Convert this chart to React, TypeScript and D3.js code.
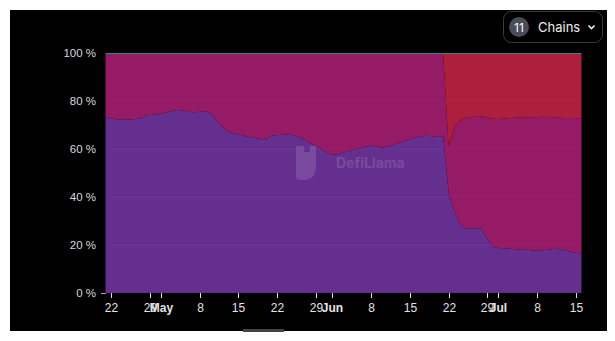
import React from "react";
import * as d3 from "d3";

const startDate = "2022-04-21";
const chainNames = ["Chain A", "Chain B", "Chain C", "Others"];
const chainColors = ["#652f90", "#951b67", "#ae1e3d", "#2c8c7c"];

const purple = [
  73.3, 72.8, 72.4, 72.2, 72.2, 72.4, 72.6, 73.5, 74.2, 74.4, 74.6, 75.2, 75.8, 76.3, 76.0, 75.4, 75.3, 75.5, 75.6, 75.0,
  72.0, 69.5, 67.5, 66.6, 66.0, 65.5, 65.0, 64.6, 64.2, 64.0, 65.5, 65.8, 65.9, 66.0, 65.8, 65.0, 63.8, 62.5, 61.5, 60.0,
  58.5, 57.6, 57.8, 58.5, 59.2, 59.8, 60.2, 60.8, 61.5, 61.0, 60.5, 61.0, 61.8, 62.5, 63.2, 64.0, 64.8, 65.2, 65.5, 65.3,
  65.0, 65.4, 41.5, 34.5, 29.0, 27.0, 26.8, 27.0, 26.8, 22.5, 19.2, 18.8, 18.6, 18.4, 18.2, 18.0, 18.0, 17.8, 17.6, 17.8,
  18.0, 18.3, 18.4, 17.8, 17.2, 16.8, 16.5,
];
const crimson = [
  26.3, 26.8, 27.2, 27.4, 27.4, 27.2, 27.0, 26.1, 25.4, 25.2, 25.0, 24.4, 23.8, 23.3, 23.6, 24.2, 24.3, 24.1, 24.0, 24.6,
  27.6, 30.1, 32.1, 33.0, 33.6, 34.1, 34.6, 35.0, 35.4, 35.6, 34.1, 33.8, 33.7, 33.6, 33.8, 34.6, 35.8, 37.1, 38.1, 39.6,
  41.1, 42.0, 41.8, 41.1, 40.4, 39.8, 39.4, 38.8, 38.1, 38.6, 39.1, 38.6, 37.8, 37.1, 36.4, 35.6, 34.8, 34.4, 34.1, 34.3,
  34.6, 34.2, 19.3, 34.8, 42.7, 45.9, 46.5, 46.8, 46.8, 50.7, 53.4, 53.7, 54.1, 54.5, 54.8, 55.1, 55.2, 55.4, 55.7, 55.6,
  55.3, 54.9, 54.6, 55.1, 55.7, 56.0, 56.3,
];
const red = [
  0, 0, 0, 0, 0, 0, 0, 0, 0, 0, 0, 0, 0, 0, 0, 0, 0, 0, 0, 0,
  0, 0, 0, 0, 0, 0, 0, 0, 0, 0, 0, 0, 0, 0, 0, 0, 0, 0, 0, 0,
  0, 0, 0, 0, 0, 0, 0, 0, 0, 0, 0, 0, 0, 0, 0, 0, 0, 0, 0, 0,
  0, 0, 38.8, 30.3, 27.9, 26.7, 26.3, 25.8, 26.0, 26.4, 27.0, 27.1, 26.9, 26.7, 26.6, 26.5, 26.4, 26.4, 26.3, 26.2,
  26.3, 26.4, 26.6, 26.7, 26.7, 26.8, 26.8,
];
const others = [
  0.4, 0.4, 0.4, 0.4, 0.4, 0.4, 0.4, 0.4, 0.4, 0.4, 0.4, 0.4, 0.4, 0.4, 0.4, 0.4, 0.4, 0.4, 0.4, 0.4,
  0.4, 0.4, 0.4, 0.4, 0.4, 0.4, 0.4, 0.4, 0.4, 0.4, 0.4, 0.4, 0.4, 0.4, 0.4, 0.4, 0.4, 0.4, 0.4, 0.4,
  0.4, 0.4, 0.4, 0.4, 0.4, 0.4, 0.4, 0.4, 0.4, 0.4, 0.4, 0.4, 0.4, 0.4, 0.4, 0.4, 0.4, 0.4, 0.4, 0.4,
  0.4, 0.4, 0.4, 0.4, 0.4, 0.4, 0.4, 0.4, 0.4, 0.4, 0.4, 0.4, 0.4, 0.4, 0.4, 0.4, 0.4, 0.4, 0.4, 0.4,
  0.4, 0.4, 0.4, 0.4, 0.4, 0.4, 0.4,
];

const xTickDates = [
  "2022-04-22", "2022-04-29", "2022-05-01", "2022-05-08", "2022-05-15", "2022-05-22", "2022-05-29",
  "2022-06-01", "2022-06-08", "2022-06-15", "2022-06-22", "2022-06-29", "2022-07-01", "2022-07-08", "2022-07-15",
];
const xTickLabels = ["22", "29", "May", "8", "15", "22", "29", "Jun", "8", "15", "22", "29", "Jul", "8", "15"];
const yTicks = [0, 0.2, 0.4, 0.6, 0.8, 1];

export default function App() {
  const W = 615, H = 341;
  const left = 105.5, right = 581.5, top = 53, bottom = 293;
  const start = new Date(startDate + "T00:00:00Z");
  const dates = purple.map((_, i) => d3.utcDay.offset(start, i));
  const series = [purple, crimson, red, others];
  const rows = dates.map((d, i) => {
    const r: any = { date: d };
    chainNames.forEach((n, k) => (r[n] = series[k][i]));
    return r;
  });
  const stack = d3.stack<any>().keys(chainNames).offset(d3.stackOffsetExpand);
  const stacked = stack(rows);

  const x = d3.scaleUtc().domain([dates[0], dates[dates.length - 1]]).range([left, right]);
  const y = d3.scaleLinear().domain([0, 1]).range([bottom, top]);
  const area = d3
    .area<any>()
    .x((d) => x(d.data.date))
    .y0((d) => y(d[0]))
    .y1((d) => y(d[1]));

  const axisFont = "'Liberation Sans', Arial, sans-serif";

  return (
    <div style={{ position: "fixed", left: 0, top: 0, width: W, height: H, background: "#fff" }}>
      <svg width={W} height={H} style={{ display: "block" }}>
        <rect x={10} y={10} width={597} height={321} fill="#000" />
        {stacked.map((s, i) => (
          <path key={s.key} d={area(s) || ""} fill={chainColors[i]} />
        ))}
        {yTicks.slice(1, -1).map((t) => (
          <line key={t} x1={left} x2={right} y1={y(t)} y2={y(t)} stroke="rgba(255,255,255,0.035)" strokeWidth={1} />
        ))}
        {/* watermark */}
        <g opacity={0.13} fill="#fff">
          <path d="M296,146 h8 v6 h6 v-6 h6 v20 q0,12 -10,14 h-6 q-4,0 -4,-4 z" />
          <text x={336} y={168} fontFamily="Inter, sans-serif" fontWeight={700} fontSize={14}>
            DefiLlama
          </text>
        </g>
        {yTicks.map((t) => (
          <text
            key={t}
            x={96}
            y={y(t)}
            dy="0.35em"
            textAnchor="end"
            fill="#d8d8d8"
            fontSize={11.5}
            fontFamily={axisFont}
          >
            {`${Math.round(t * 100)} %`}
          </text>
        ))}
        <line x1={101} x2={106} y1={bottom + 0.5} y2={bottom + 0.5} stroke="#aaa" />
        {xTickDates.map((ds, i) => {
          const xv = Math.round(x(new Date(ds + "T00:00:00Z"))) + 0.5;
          const isMonth = isNaN(Number(xTickLabels[i]));
          return (
            <g key={ds}>
              <line x1={xv} x2={xv} y1={bottom} y2={bottom + 5} stroke="#ddd" />
              <text
                x={xv}
                y={312}
                textAnchor="middle"
                fill="#e4e4e4"
                fontSize={12}
                fontWeight={isMonth ? 700 : 400}
                fontFamily={axisFont}
              >
                {xTickLabels[i]}
              </text>
            </g>
          );
        })}
        {/* chains button */}
        <rect x={503.5} y={11.5} width={99} height={31} rx={8} fill="#000" stroke="#3c3c3c" />
        <circle cx={519} cy={27} r={10} fill="#4a4c58" />
        <text x={519} y={31.5} textAnchor="middle" fill="#fff" fontSize={12} fontFamily="Inter, sans-serif">
          11
        </text>
        <text x={538} y={31.5} fill="#eee" fontSize={13} fontFamily="Inter, sans-serif">
          Chains
        </text>
        <path d="M588.5,25.5 l3,3 l3,-3" fill="none" stroke="#eee" strokeWidth={1.6} />
        <rect x={243} y={329} width={41} height={3} fill="#444" />
      </svg>
    </div>
  );
}
